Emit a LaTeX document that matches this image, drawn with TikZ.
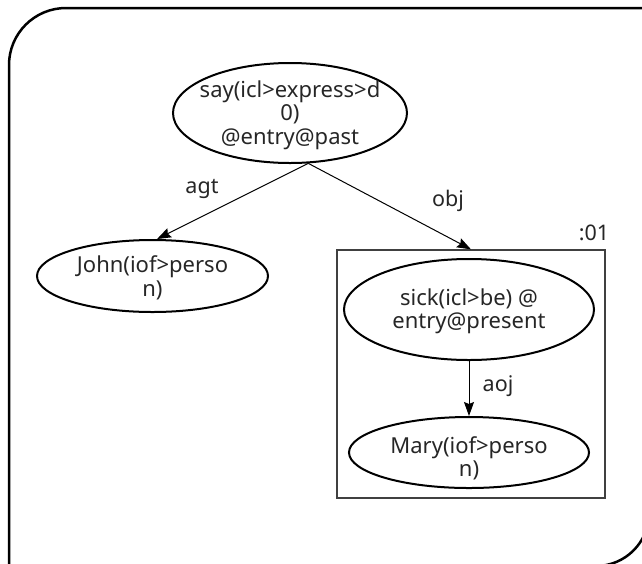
\documentclass[tikz,border=0pt]{standalone}
\usepackage{fontspec}
\setmainfont{Noto Sans}
\usetikzlibrary{shapes.geometric,arrows.meta}
\begin{document}
\begin{tikzpicture}[x=1pt,y=-1pt,
  unl/.style={ellipse, draw, line width=2pt, inner sep=0pt},
  txt/.style={inner sep=0pt, align=center, text=black!85, font=\fontsize{22}{23.5}\selectfont, yshift=-2pt},
  lbl/.style={inner sep=0pt, text=black!85, font=\fontsize{21.5}{23.5}\selectfont},
  arr/.style={-{Stealth[length=14pt,width=10pt,inset=2pt]}, line width=1pt}]
\useasboundingbox (0,0) rectangle (642,563);
\clip (0,0) rectangle (642,563);
% outer frame
\draw[line width=2.5pt, rounded corners=57pt] (9,640) -- (9,8) -- (720,8);
\draw[line width=2.5pt, rounded corners=53pt] (649,-40) -- (649,566) -- (-40,566);
% nodes
\node[unl, minimum width=234pt, minimum height=100pt,
  label={[txt]center:{say(icl>express>d\\0)\\@entry@past}}] (say) at (290,113) {};
\node[unl, minimum width=231pt, minimum height=72pt,
  label={[txt]center:{John(iof>perso\\n)}}] (John) at (152.5,276) {};
\node[draw=black!75, line width=1.3pt, inner sep=0pt, minimum width=268pt, minimum height=248pt] (box) at (471,374) {};
\node[unl, minimum width=250pt, minimum height=101pt,
  label={[txt]center:{sick(icl>be) @\\entry@present}}] (sick) at (469,309.5) {};
\node[unl, minimum width=240pt, minimum height=71pt,
  label={[txt, yshift=-4pt]center:{Mary(iof>perso\\n)}}] (Mary) at (469,452.5) {};
\node[lbl] (tag) at (594,233) {:01};
% connectors
\draw[arr] (say.-70) -- (John.83);
\draw[arr] (say.-70) -- (box.north);
\draw[arr] (sick.south) -- (Mary.north);
% connector labels
\node[lbl] (agt) at (202,189) {agt};
\node[lbl] (obj) at (448,201) {obj};
\node[lbl] (aoj) at (498,386) {aoj};
\end{tikzpicture}
\end{document}
